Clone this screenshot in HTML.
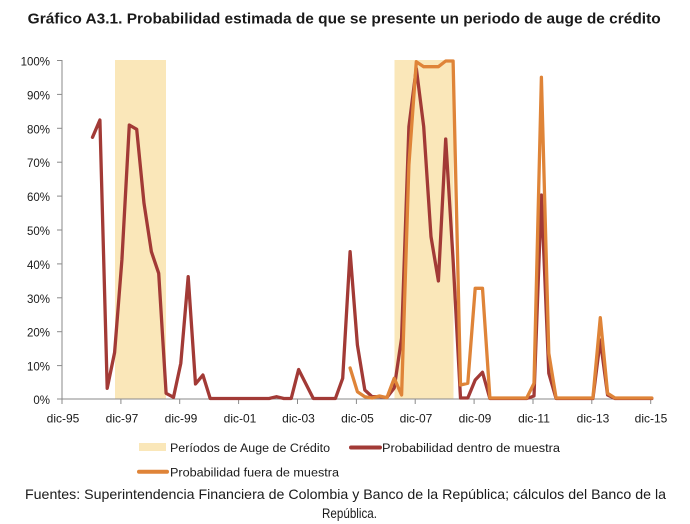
<!DOCTYPE html>
<html><head><meta charset="utf-8"><style>
html,body{margin:0;padding:0;background:#fff;}
svg{display:block;}
text{font-family:"Liberation Sans",sans-serif;fill:#1a1a1a;}
</style></head><body>
<svg width="690" height="524" viewBox="0 0 690 524" xmlns="http://www.w3.org/2000/svg">
<rect width="690" height="524" fill="#fff"/>
<text x="27.7" y="23.5" font-size="15" font-weight="bold" textLength="633" lengthAdjust="spacingAndGlyphs">Gráfico A3.1. Probabilidad estimada de que se presente un periodo de auge de crédito</text>

<!-- bands -->
<rect x="115" y="60" width="51" height="339" fill="#FAE7B9"/>
<rect x="394.5" y="60" width="59" height="339" fill="#FAE7B9"/>

<!-- axes -->
<g stroke="#8a8a8a" stroke-width="1" fill="none">
<line x1="62" y1="60" x2="62" y2="399"/>
<line x1="62" y1="399" x2="651" y2="399"/>
<line x1="57" y1="60.5" x2="62" y2="60.5"/>
<line x1="57" y1="94.4" x2="62" y2="94.4"/>
<line x1="57" y1="128.3" x2="62" y2="128.3"/>
<line x1="57" y1="162.2" x2="62" y2="162.2"/>
<line x1="57" y1="196.1" x2="62" y2="196.1"/>
<line x1="57" y1="230" x2="62" y2="230"/>
<line x1="57" y1="263.9" x2="62" y2="263.9"/>
<line x1="57" y1="297.8" x2="62" y2="297.8"/>
<line x1="57" y1="331.7" x2="62" y2="331.7"/>
<line x1="57" y1="365.6" x2="62" y2="365.6"/>
<line x1="57" y1="399" x2="62" y2="399"/>
<line x1="62" y1="399" x2="62" y2="404"/>
<line x1="120.9" y1="399" x2="120.9" y2="404"/>
<line x1="179.7" y1="399" x2="179.7" y2="404"/>
<line x1="238.6" y1="399" x2="238.6" y2="404"/>
<line x1="297.5" y1="399" x2="297.5" y2="404"/>
<line x1="356.4" y1="399" x2="356.4" y2="404"/>
<line x1="415.2" y1="399" x2="415.2" y2="404"/>
<line x1="474.1" y1="399" x2="474.1" y2="404"/>
<line x1="533" y1="399" x2="533" y2="404"/>
<line x1="591.8" y1="399" x2="591.8" y2="404"/>
<line x1="650.7" y1="399" x2="650.7" y2="404"/>
</g>

<!-- y labels -->
<g font-size="11.5" text-anchor="end">
<text x="50" y="65.5">100%</text>
<text x="50" y="99.4">90%</text>
<text x="50" y="133.3">80%</text>
<text x="50" y="167.2">70%</text>
<text x="50" y="201.1">60%</text>
<text x="50" y="235">50%</text>
<text x="50" y="268.9">40%</text>
<text x="50" y="302.8">30%</text>
<text x="50" y="336.7">20%</text>
<text x="50" y="370.6">10%</text>
<text x="50" y="404">0%</text>
</g>

<!-- x labels -->
<g font-size="12" text-anchor="middle">
<text x="63" y="422.5">dic-95</text>
<text x="122" y="422.5">dic-97</text>
<text x="181" y="422.5">dic-99</text>
<text x="240" y="422.5">dic-01</text>
<text x="298.5" y="422.5">dic-03</text>
<text x="357.5" y="422.5">dic-05</text>
<text x="416" y="422.5">dic-07</text>
<text x="475" y="422.5">dic-09</text>
<text x="534" y="422.5">dic-11</text>
<text x="593" y="422.5">dic-13</text>
<text x="651" y="422.5">dic-15</text>
</g>

<!-- series -->
<polyline fill="none" stroke="#A23A36" stroke-width="3.3" stroke-linejoin="round" stroke-linecap="round"
points="92.5,137.3 99.9,120 107.2,388.3 114.6,352.5 121.9,260 129.3,125 136.7,129.3 144,203.3 151.4,251.7 158.7,273.3 166.1,393.3 173.5,397.3 180.8,363.3 188.2,276.7 195.5,384 202.9,375 210.2,398.5 269.1,398.5 276.5,396.7 283.8,398.5 291.2,398.5 298.6,369.5 313.3,398.5 335.4,398.5 342.7,378.3 350.1,251.7 357.4,345 364.8,390 372.1,396.7 379.5,396.7 386.9,397.5 394.2,388 401.6,338 408.9,126.7 416.3,68.3 423.7,126.7 431,236.7 438.4,281 445.7,139 453.1,260 460.5,398 467.8,398 475.2,380 482.5,372.3 489.9,398.5 526.7,398.5 534,396 541.4,195 548.8,373.3 556.1,398.5 592.9,398.5 600.3,340 607.6,395 615,398.5 651.8,398.5"/>
<polyline fill="none" stroke="#DF8438" stroke-width="3.3" stroke-linejoin="round" stroke-linecap="round"
points="350.1,368 357.4,391.7 364.8,396.7 372.1,398 379.5,396 386.9,397.7 394.2,378.3 401.6,395 408.9,165 416.3,61.7 423.7,66.7 438.4,66.7 445.7,61 453.1,61 460.5,385 467.8,383.3 475.2,288.3 482.5,288.3 489.9,398 526.7,398 534,383.3 541.4,77.3 548.8,353.3 556.1,398 592.9,398 600.3,317.7 607.6,393.3 615,398 651.8,398"/>

<!-- legend -->
<rect x="139" y="443" width="27" height="8" fill="#FAE7B9"/>
<text x="170" y="452" font-size="11.5" textLength="160" lengthAdjust="spacingAndGlyphs">Períodos de Auge de Crédito</text>
<line x1="351" y1="447.5" x2="380" y2="447.5" stroke="#A23A36" stroke-width="4" stroke-linecap="round"/>
<text x="382" y="452" font-size="11.5" textLength="178" lengthAdjust="spacingAndGlyphs">Probabilidad dentro de muestra</text>
<line x1="139" y1="471.7" x2="167" y2="471.7" stroke="#DF8438" stroke-width="4" stroke-linecap="round"/>
<text x="170" y="476.5" font-size="11.5" textLength="169" lengthAdjust="spacingAndGlyphs">Probabilidad fuera de muestra</text>

<!-- footer -->
<text x="25" y="499" font-size="14" textLength="641" lengthAdjust="spacingAndGlyphs">Fuentes: Superintendencia Financiera de Colombia y Banco de la República; cálculos del Banco de la</text>
<text x="322" y="518" font-size="14" textLength="55" lengthAdjust="spacingAndGlyphs">República.</text>
</svg>
</body></html>
